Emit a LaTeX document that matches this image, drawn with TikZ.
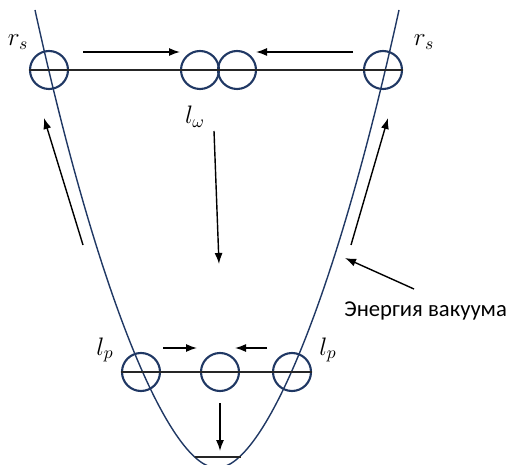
\documentclass[tikz,border=0pt]{standalone}
\usepackage{fontspec}
\setmainfont{Carlito}
\usepackage{amsmath}
\usetikzlibrary{arrows.meta, positioning}
\definecolor{ringblue}{RGB}{32,56,100}

\begin{document}
\begin{tikzpicture}[
    x=0.02cm, y=-0.02cm,
    >={Latex[length=2.2mm, width=1.6mm]},
    ring/.style={draw=ringblue, line width=1.2pt, circle, minimum size=0.76cm, inner sep=0pt},
    well/.style={draw=ringblue, line width=0.8pt},
    bar/.style ={draw=black!85, line width=0.8pt},
    flow/.style={->, line width=0.8pt},
    lbl/.style ={font=\fontsize{14.5}{17}\selectfont, inner sep=1pt},
]
\useasboundingbox (0,0) rectangle (509,465);
\clip (0,0) rectangle (509,465);
% --- the well ---
\draw[well] (35,10) .. controls (101,310) and (172,468) .. (217,468)
                    .. controls (262,468) and (333,310) .. (399,10);

% --- upper row: r_s ... l_omega ... r_s ---
\node[ring] (rsl) at (49,70)  {};
\node[ring] (lwa) at (200,70) {};
\node[ring] (lwb) at (237,70) {};
\node[ring] (rsr) at (383,70) {};
\draw[bar] (rsl.west) -- (rsr.east);
\node[lbl] (rsltxt) at (18,42)  {$r_s$};
\node[lbl] (rsrtxt) at (424,42) {$r_s$};
\node[lbl] (lwtxt)  at (195,117) {$l_\omega$};

% --- lower row: l_p ... l_p ---
\node[ring] (lpl) at (141,372) {};
\node[ring] (lpm) at (220,372) {};
\node[ring] (lpr) at (292,372) {};
\draw[bar] (lpl.west) -- (lpr.east);
\node[lbl] (lpltxt) at (105,350) {$l_p$};
\node[lbl] (lprtxt) at (328,350) {$l_p$};

% --- bottom level ---
\coordinate (botl) at (195,457);
\coordinate (botr) at (241,457);
\draw[bar] (botl) -- (botr);

% --- arrows ---
\coordinate (ta1) at (83,52);   \coordinate (tb1) at (180,52);
\coordinate (ta2) at (353,52);  \coordinate (tb2) at (256,52);
\coordinate (ma)  at (214,131); \coordinate (mb)  at (219,264);
\coordinate (la)  at (83,245);  \coordinate (lb)  at (44,118);
\coordinate (ra)  at (351,245); \coordinate (rb)  at (388,118);
\coordinate (sa1) at (163,348); \coordinate (sb1) at (197,348);
\coordinate (sa2) at (267,348); \coordinate (sb2) at (235,348);
\coordinate (ba)  at (220,403); \coordinate (bb)  at (220,451);
\coordinate (ea)  at (414,289); \coordinate (eb)  at (345,258);
\draw[flow] (ta1) -- (tb1);
\draw[flow] (ta2) -- (tb2);
\draw[flow] (ma)  -- (mb);
\draw[flow] (la)  -- (lb);
\draw[flow] (ra)  -- (rb);
\draw[flow] (sa1) -- (sb1);
\draw[flow] (sa2) -- (sb2);
\draw[flow] (ba)  -- (bb);
\draw[flow] (ea)  -- (eb);
\node[font=\fontsize{12.9}{15}\selectfont, anchor=west, inner sep=0pt] (vac) at (344,311) {Энергия вакуума};
\end{tikzpicture}
\end{document}
